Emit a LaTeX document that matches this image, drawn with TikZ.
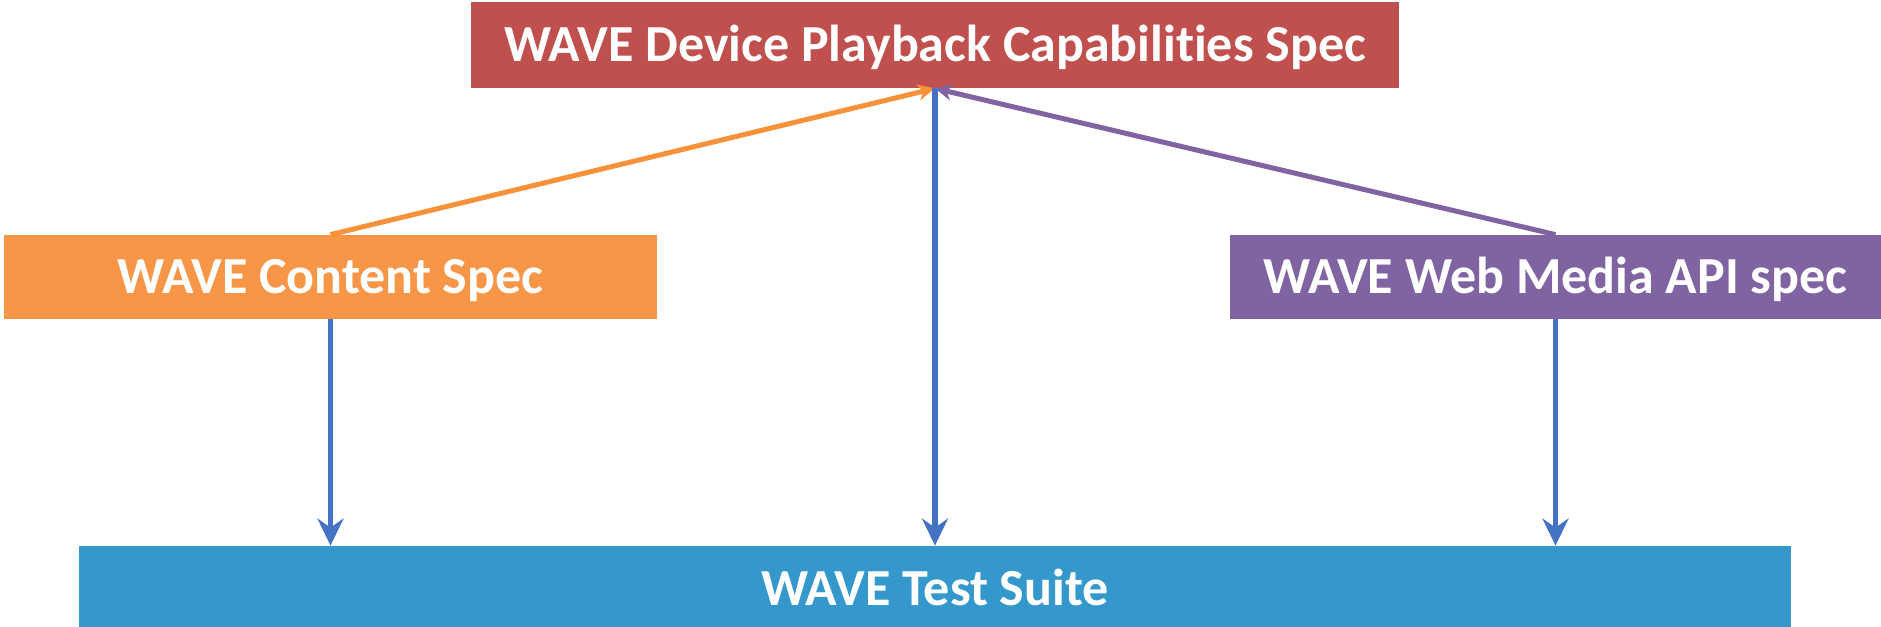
\documentclass[tikz,border=0pt]{standalone}
\usepackage{fontspec}
\setmainfont[Ligatures={NoCommon,NoRare}]{Carlito}
\usetikzlibrary{arrows.meta,positioning}
\definecolor{specred}{HTML}{C0504D}
\definecolor{specorange}{HTML}{F79646}
\definecolor{lineorange}{HTML}{F7923A}
\definecolor{specpurple}{HTML}{8064A2}
\definecolor{suiteblue}{HTML}{3498CC}
\definecolor{lineblue}{HTML}{4472C4}

\begin{document}
\begin{tikzpicture}[x=0.5pt,y=-0.5pt,
  specbox/.style={rectangle,inner sep=0pt,text=white,
    font=\fontsize{26}{31}\selectfont\bfseries,text height=16.4pt,text depth=0pt},
  bigtip/.style={-{Stealth[length=13.5pt,width=13pt,inset=4.5pt]}},
  smalltip/.style={-{Stealth[length=8.5pt,width=8pt,inset=2.5pt]}}]
\useasboundingbox (0,0) rectangle (1881,627);
\node[specbox,fill=specred,minimum width=464pt,minimum height=43pt] (playback) at (935,45) {WAVE Device Playback Capabilities Spec};
\node[specbox,fill=specorange,minimum width=326.5pt,minimum height=42pt] (content) at (330.5,277) {WAVE Content Spec};
\node[specbox,fill=specpurple,minimum width=325.5pt,minimum height=42pt] (webapi) at (1555.5,277) {WAVE Web Media API spec};
\node[specbox,fill=suiteblue,minimum width=856pt,minimum height=43pt] (suite) at (935,589) {WAVE Test Suite};
\draw[lineorange,line width=2.5pt,smalltip] (content.north) -- (playback.south);
\draw[specpurple,line width=2.5pt,smalltip] (webapi.north) -- (playback.south);
\draw[lineblue,line width=2.8pt,bigtip] (playback.south) -- (suite.north);
\draw[lineblue,line width=2.8pt,bigtip] (content.south) -- (content.south |- suite.north);
\draw[lineblue,line width=2.8pt,bigtip] (webapi.south) -- (webapi.south |- suite.north);
\end{tikzpicture}
\end{document}
